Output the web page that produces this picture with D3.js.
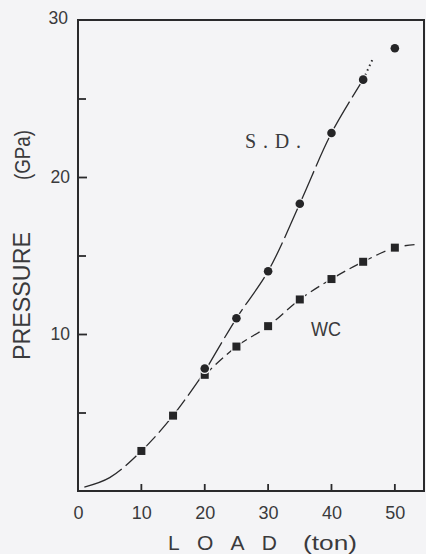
<!DOCTYPE html>
<html>
<head>
<meta charset="utf-8">
<script src="https://cdn.jsdelivr.net/npm/d3@7"></script>
<style>
  html, body { margin: 0; padding: 0; background: #f4f4f6; }
  svg { display: block; }
</style>
</head>
<body>
<svg id="chart" width="426" height="554"></svg>
<script>
// Measured points: load (ton) vs pressure (GPa)
const wcLoad = [10, 15, 20, 25, 30, 35, 40, 45, 50];
const wcPressure = [2.55, 4.8, 7.4, 9.2, 10.5, 12.2, 13.5, 14.6, 15.5];
const sdLoad = [20, 25, 30, 35, 40, 45, 50];
const sdPressure = [7.8, 11.0, 14.0, 18.3, 22.8, 26.2, 28.2];

// Common calibration curve below 20 ton
const baseLoad = [1, 5, 10, 15, 20];
const basePressure = [0.25, 0.85, 2.55, 4.8, 7.6];
// Extensions of the two branches
const sdTailLoad = [45, 46.6];
const sdTailPressure = [26.2, 27.6];
const wcTailLoad = [50, 53.5];
const wcTailPressure = [15.5, 15.7];

const xTicks = [0, 10, 20, 30, 40, 50];
const yTicks = [10, 20, 30];
const yMinorTicks = [5, 15, 25];

const ink = "#2a2a2c";
const textInk = "#3a3a3c";
const bg = "#f4f4f6";

const svg = d3.select("#chart");
const xMax = 54.6;
const x = d3.scaleLinear().domain([0, xMax]).range([78, 424]);
const y = d3.scaleLinear().domain([0, 30]).range([491, 20]);

const pts = (xs, ys) => xs.map((v, i) => [v, ys[i]]);
const line = d3.line().x(d => x(d[0])).y(d => y(d[1])).curve(d3.curveCatmullRom.alpha(0.5));

// Y axis, ticks pointing inward
const yAxis = svg.append("g").attr("transform", `translate(${x(0)},0)`)
  .call(d3.axisLeft(y).tickValues(yTicks).tickSizeInner(-9).tickSizeOuter(0).tickPadding(8));
yAxis.select(".domain").remove();
yAxis.selectAll(".tick line").attr("stroke", ink).attr("stroke-width", 1.8)
  .filter(d => d === 30).remove();
yAxis.selectAll(".tick text")
  .attr("font-family", "Liberation Sans, Arial, sans-serif")
  .attr("font-size", 17.5).attr("fill", textInk);
yAxis.selectAll(".tick").filter(d => d === 30).select("text").attr("x", -10).attr("dy", "0.2em");

svg.append("g").attr("transform", `translate(${x(0)},0)`)
  .call(d3.axisLeft(y).tickValues(yMinorTicks).tickSizeInner(-8).tickSizeOuter(0).tickFormat(""))
  .call(g => g.select(".domain").remove())
  .selectAll(".tick line").attr("stroke", ink).attr("stroke-width", 1.8);

// X axis labels
const xAxis = svg.append("g").attr("transform", `translate(0,${y(0)})`)
  .call(d3.axisBottom(x).tickValues(xTicks).tickSizeInner(0).tickSizeOuter(0).tickPadding(15));
xAxis.select(".domain").remove();
xAxis.selectAll(".tick line").remove();
xAxis.selectAll(".tick text")
  .attr("font-family", "Liberation Sans, Arial, sans-serif")
  .attr("font-size", 18).attr("fill", textInk);

// X tick marks pointing into the plot
svg.append("g").selectAll("path").data(xTicks.filter(d => d > 0)).join("path")
  .attr("d", d => `M${x(d)},${y(0)}v-7`)
  .attr("stroke", ink).attr("stroke-width", 1.8).attr("fill", "none");

// Curves
const curves = svg.append("g").attr("fill", "none").attr("stroke", ink).attr("stroke-width", 1.3);
curves.append("path").attr("d", line(pts(baseLoad, basePressure))).attr("stroke-dasharray", "42,5");
curves.append("path")
  .attr("d", line([[baseLoad[baseLoad.length - 1], basePressure[basePressure.length - 1]], ...pts(sdLoad.slice(1, 6), sdPressure.slice(1, 6))]))
  .attr("stroke-dasharray", "34,5");
curves.append("path").attr("d", line(pts(sdTailLoad, sdTailPressure)))
  .attr("stroke-dasharray", "1.5,3.5").attr("stroke-width", 2);
curves.append("path")
  .attr("d", line([...pts(wcLoad.slice(2), wcPressure.slice(2)), [wcTailLoad[1], wcTailPressure[1]]]))
  .attr("stroke-dasharray", "10,5");

// Markers with a background halo so the lines break around them
const size = 8;
svg.append("g").selectAll("rect").data(pts(wcLoad, wcPressure)).join("rect")
  .attr("x", d => x(d[0]) - size / 2).attr("y", d => y(d[1]) - size / 2)
  .attr("width", size).attr("height", size)
  .attr("fill", "#252527").attr("stroke", bg).attr("stroke-width", 2.5).attr("paint-order", "stroke");
svg.append("g").selectAll("circle").data(pts(sdLoad, sdPressure)).join("circle")
  .attr("cx", d => x(d[0])).attr("cy", d => y(d[1])).attr("r", 4.3)
  .attr("fill", "#252527").attr("stroke", bg).attr("stroke-width", 2.5).attr("paint-order", "stroke");

// Series labels
svg.append("text").attr("x", 245).attr("y", 148)
  .attr("font-family", "Liberation Serif, Times New Roman, serif").attr("font-size", 20)
  .attr("textLength", 56).attr("lengthAdjust", "spacing")
  .attr("fill", textInk).text("S.D.");
svg.append("text").attr("x", 311).attr("y", 336)
  .attr("font-family", "Liberation Sans, sans-serif").attr("font-size", 21)
  .attr("textLength", 30).attr("lengthAdjust", "spacingAndGlyphs")
  .attr("fill", textInk).text("WC");

// Axis titles
svg.append("text").attr("x", 168).attr("y", 550)
  .attr("font-family", "Liberation Sans, Arial, sans-serif").attr("font-size", 21)
  .attr("textLength", 109).attr("lengthAdjust", "spacing")
  .attr("fill", textInk).text("LOAD");
svg.append("text").attr("x", 303).attr("y", 550)
  .attr("font-family", "Liberation Sans, Arial, sans-serif").attr("font-size", 21)
  .attr("textLength", 54).attr("lengthAdjust", "spacingAndGlyphs")
  .attr("fill", textInk).text("(ton)");

svg.append("text").attr("transform", "translate(30,296) rotate(-90)")
  .attr("text-anchor", "middle")
  .attr("font-family", "Liberation Sans, Arial, sans-serif").attr("font-size", 24)
  .attr("textLength", 128).attr("lengthAdjust", "spacingAndGlyphs")
  .attr("fill", textInk).text("PRESSURE");
svg.append("text").attr("transform", "translate(30,155) rotate(-90)")
  .attr("text-anchor", "middle")
  .attr("font-family", "Liberation Sans, Arial, sans-serif").attr("font-size", 22)
  .attr("textLength", 50).attr("lengthAdjust", "spacingAndGlyphs")
  .attr("fill", textInk).text("(GPa)");

// Plot frame, drawn on top
svg.append("path")
  .attr("d", `M${x(0)},${y(30)}H${x(xMax)}V${y(0)}H${x(0)}Z`)
  .attr("fill", "none").attr("stroke", ink).attr("stroke-width", 2);
</script>
</body>
</html>
